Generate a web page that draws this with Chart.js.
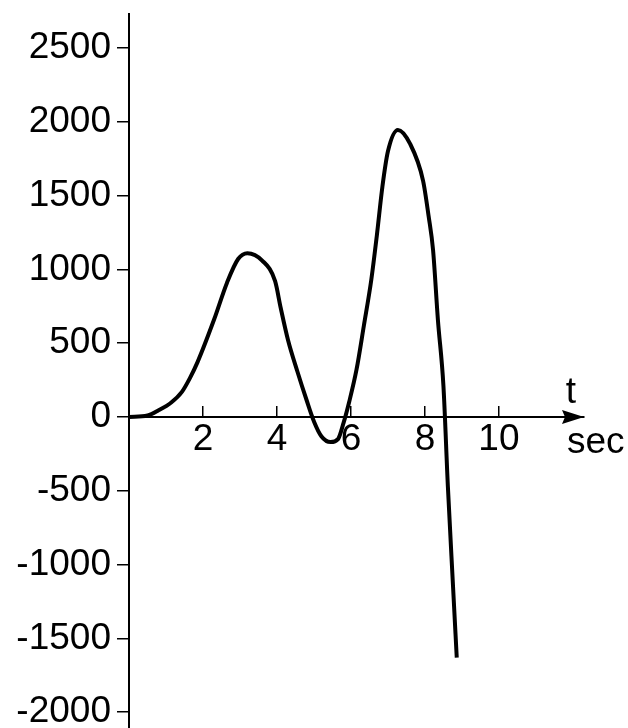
<!DOCTYPE html>
<html>
<head>
<meta charset="utf-8">
<script src="https://cdn.jsdelivr.net/npm/chart.js@4.4.0/dist/chart.umd.min.js"></script>
<style>
  html, body { margin: 0; padding: 0; background: #fff; }
  #wrap { width: 628px; height: 728px; }
</style>
</head>
<body>
<div id="wrap"><canvas id="signalChart" width="628" height="728"></canvas></div>
<script>
// values
const timeSec = [0, 0.5, 0.8, 1.15, 1.43, 1.65, 1.85, 2.3, 2.65, 2.95, 3.2, 3.6, 3.95, 4.1, 4.3, 4.55, 4.8, 5.0, 5.2, 5.45, 5.65, 5.8, 5.95, 6.15, 6.35, 6.55, 6.7, 6.85, 7.0, 7.27, 7.6, 7.95, 8.1, 8.22, 8.35, 8.5, 8.62, 8.76, 8.86];
const signal = [0, 10, 45, 100, 170, 265, 370, 660, 910, 1070, 1110, 1060, 920, 740, 520, 310, 115, -30, -130, -170, -150, -40, 100, 320, 620, 930, 1230, 1560, 1800, 1945, 1850, 1600, 1360, 1130, 660, 210, -470, -1150, -1630];
const xTicks = [2, 4, 6, 8, 10];
const yTicks = [-2000, -1500, -1000, -500, 0, 500, 1000, 1500, 2000, 2500];

const FONT = { family: '"Liberation Sans", Arial, sans-serif', size: 37 };

// arrow head on the time axis plus the "t" / "sec" captions
const axisArrow = {
  id: 'axisArrow',
  afterDraw(chart) {
    const ctx = chart.ctx;
    const right = chart.chartArea.right;
    const y0 = chart.scales.y.getPixelForValue(0);
    ctx.save();
    ctx.fillStyle = '#000';
    ctx.beginPath();
    ctx.moveTo(right, y0);
    ctx.lineTo(right - 22, y0 - 7);
    ctx.lineTo(right - 19, y0);
    ctx.lineTo(right - 22, y0 + 7);
    ctx.closePath();
    ctx.fill();
    ctx.font = FONT.size + 'px ' + FONT.family;
    ctx.textBaseline = 'alphabetic';
    ctx.textAlign = 'center';
    ctx.fillText('t', right - 13, y0 - 14);
    ctx.textAlign = 'left';
    ctx.fillText('sec', right - 17, y0 + 36);
    ctx.restore();
  }
};

const ctxSignal = document.getElementById('signalChart').getContext('2d');
new Chart(ctxSignal, {
  type: 'line',
  data: {
    datasets: [{
      data: timeSec.map((t, i) => ({ x: t, y: signal[i] })),
      borderColor: '#000',
      borderWidth: 4,
      pointRadius: 0,
      fill: false,
      cubicInterpolationMode: 'monotone'
    }]
  },
  options: {
    responsive: false,
    animation: false,
    devicePixelRatio: 1,
    layout: { padding: { top: 14, right: 44, bottom: 0, left: 0 } },
    plugins: {
      legend: { display: false },
      tooltip: { enabled: false }
    },
    scales: {
      x: {
        type: 'linear',
        position: { y: 0 },
        min: 0,
        max: 12.3,
        afterBuildTicks: scale => { scale.ticks = xTicks.map(v => ({ value: v })); },
        ticks: { font: FONT, color: '#000', padding: 13, maxRotation: 0, callback: v => String(v) },
        grid: { drawOnChartArea: false, tickLength: -12, color: '#000', lineWidth: 1.5 },
        border: { display: true, color: '#000', width: 2 }
      },
      y: {
        type: 'linear',
        position: 'left',
        min: -2107,
        max: 2730,
        afterBuildTicks: scale => { scale.ticks = yTicks.map(v => ({ value: v })); },
        afterFit: scale => {
          scale.width = 129;
          scale.paddingTop = 0;
          scale.paddingBottom = 0;
        },
        ticks: { font: FONT, color: '#000', padding: 6, callback: v => String(v) },
        grid: { drawOnChartArea: false, tickLength: 12, color: '#000', lineWidth: 1.5 },
        border: { display: true, color: '#000', width: 2 }
      }
    }
  },
  plugins: [axisArrow]
});
</script>
</body>
</html>
